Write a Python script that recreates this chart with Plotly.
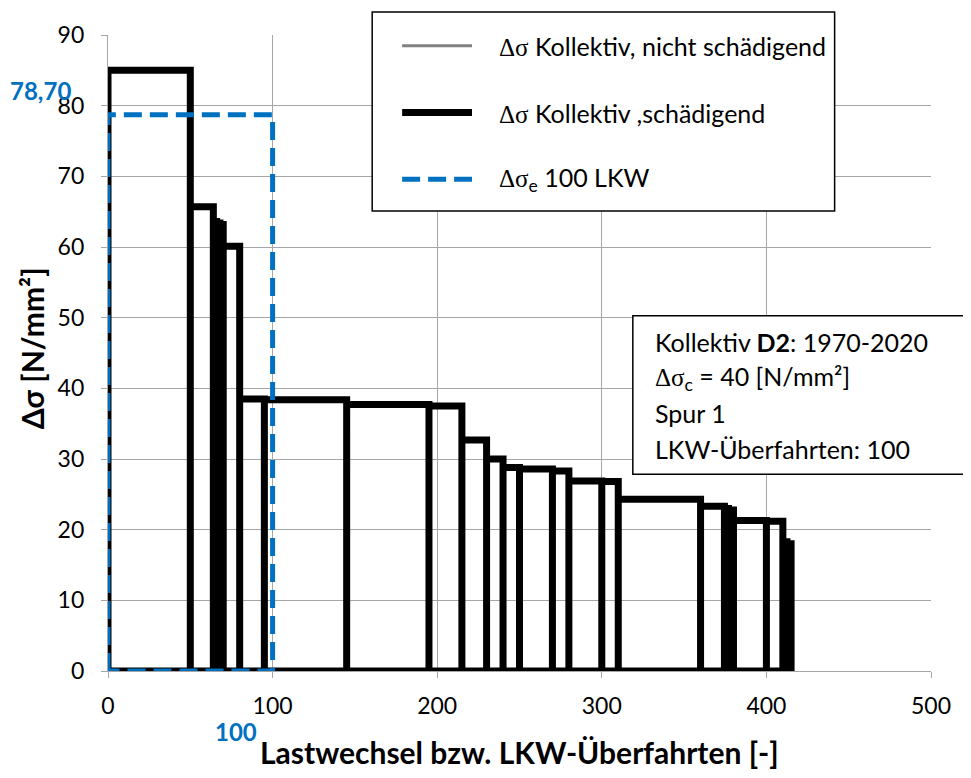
import plotly.graph_objects as go

# Kollektiv D2 (1970-2020), Spur 1: block limits [load cycles] and stress ranges [N/mm²]
block_edges = [0, 50, 64, 66, 68, 70, 80, 95, 145, 195, 215, 230, 240, 250, 270,
               280, 300, 310, 360, 374.5, 377, 380, 400, 410, 412.5, 415]
block_ranges = [85.0, 65.7, 63.6, 63.4, 63.2, 60.1, 38.5, 38.4, 37.7, 37.5, 32.7,
                30.0, 28.8, 28.6, 28.3, 26.9, 26.8, 24.3, 23.3, 23.0, 22.8, 21.3,
                21.2, 18.3, 18.0]

# equivalent stress range for 100 trucks
n_trucks = 100
delta_sigma_e = 78.70

FONT = "Lato"
BLUE = "#0070C0"
GRID = "#a6a6a6"
DS = "<span style=\"font-family:Liberation Serif\">Δσ</span>"

# outline of the collective: every block drawn as its own rectangle
coll_x, coll_y = [block_edges[0]], [0]
for i, h in enumerate(block_ranges):
    coll_x += [block_edges[i], block_edges[i + 1], block_edges[i + 1]]
    coll_y += [h, h, 0]
coll_x.append(block_edges[0])
coll_y.append(0)

eq_x = [0, 0, n_trucks, n_trucks, 0]
eq_y = [0, delta_sigma_e, delta_sigma_e, 0, 0]

fig = go.Figure()
fig.add_trace(go.Scatter(x=coll_x, y=coll_y, mode="lines",
                         line=dict(color="black", width=7), showlegend=False))
fig.add_trace(go.Scatter(x=eq_x, y=eq_y, mode="lines",
                         line=dict(color=BLUE, width=5, dash="18px,8px"), showlegend=False))


def label(x, y, text, size, color="black", **kw):
    return dict(xref="paper", yref="paper", x=x, y=y, text=text, showarrow=False,
                xanchor=kw.pop("xanchor", "center"), yanchor="middle",
                font=dict(family=FONT, size=size, color=color), **kw)


# legend box, drawn by hand so it matches the wide Excel legend
shapes = [dict(type="rect", xref="paper", yref="paper", x0=0.3210, x1=0.8829,
               y0=0.7232, y1=1.0360, line=dict(color="black", width=1.5),
               fillcolor="white", layer="above")]
legend_rows = [
    (0.9832, dict(color="#808080", width=3), DS + " Kollektiv, nicht schädigend"),
    (0.8781, dict(color="black", width=7), DS + " Kollektiv ,schädigend"),
    (0.7731, dict(color=BLUE, width=5, dash="18px,8px"), DS + "<sub>e</sub> 100 LKW"),
]
annotations = []
for y, line, text in legend_rows:
    shapes.append(dict(type="line", xref="paper", yref="paper", x0=0.3574, x1=0.4423,
                       y0=y, y1=y, line=line, layer="above"))
    annotations.append(label(0.4727, y, text, 25, xanchor="left"))

# info box
shapes.append(dict(type="rect", xref="paper", yref="paper", x0=0.6377, x1=1.07,
                   y0=0.3095, y1=0.5586, line=dict(color="black", width=1.5),
                   fillcolor="white", layer="above"))
info_lines = [
    "Kollektiv <b>D2</b>: 1970-2020",
    DS + "<sub>c</sub> = 40 [N/mm²]",
    "Spur 1",
    "LKW-Überfahrten: 100",
]
for y, txt in zip([0.5180, 0.4608, 0.4052, 0.3488], info_lines):
    annotations.append(label(0.6620, y, txt, 25, xanchor="left"))

# value labels and axis titles
annotations += [
    label(-0.0825, 0.9126, "<b>78,70</b>", 24, BLUE),
    label(0.1559, -0.0956, "<b>100</b>", 24, BLUE),
    label(0.4994, -0.1274, "<b>Lastwechsel bzw. LKW-Überfahrten [-]</b>", 30),
    label(-0.0922, 0.5078, "<b>Δσ [N/mm²]</b>", 30, textangle=-90),
]

axis_style = dict(showgrid=True, gridcolor=GRID, gridwidth=1.3, showline=True,
                  linecolor=GRID, linewidth=1.3, ticks="outside", ticklen=6,
                  tickcolor=GRID, zeroline=False, layer="below traces",
                  tickfont=dict(family=FONT, size=23, color="black"))

# page body keeps an 8px margin, so the figure is 8px smaller than the window
fig.update_layout(
    width=963, height=770,
    margin=dict(l=99.5, r=39.5, t=24.3, b=107.3),
    paper_bgcolor="white", plot_bgcolor="white",
    xaxis=dict(range=[0, 500], dtick=100, ticklabelstandoff=8, **axis_style),
    yaxis=dict(range=[0, 90], dtick=10, ticklabelstandoff=12, **axis_style),
    shapes=shapes,
    annotations=annotations,
)

fig.write_html("out.html")
